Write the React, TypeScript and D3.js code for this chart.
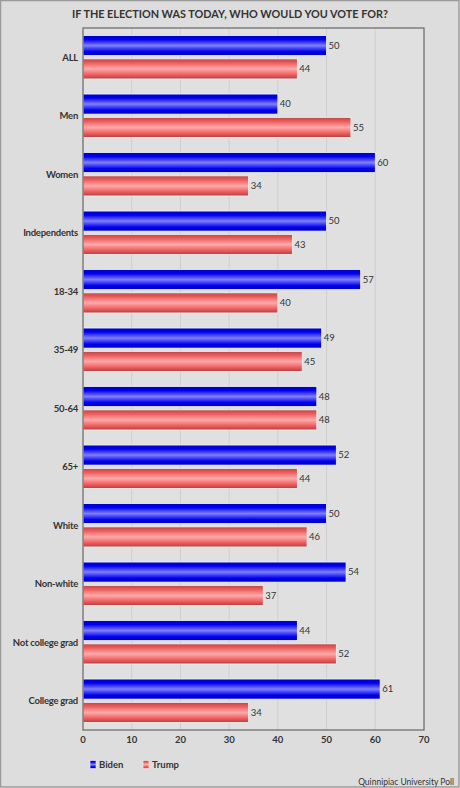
import React from "react";
import * as d3 from "d3";

const categories = ["ALL","Men","Women","Independents","18-34","35-49","50-64","65+","White","Non-white","Not college grad","College grad"];
const biden = [50,40,60,50,57,49,48,52,50,54,44,61];
const trump = [44,55,34,43,40,45,48,44,46,37,52,34];
const seriesNames = ["Biden","Trump"];
const xTicks = [0,10,20,30,40,50,60,70];
const title = "IF THE ELECTION WAS TODAY, WHO WOULD YOU VOTE FOR?";
const source = "Quinnipiac University Poll";

const W = 460, H = 788;
const M = { left: 83, right: 424, top: 28, bottom: 730 };
const FONT = "Lato, 'Noto Sans', sans-serif";

export default function App() {
  const x = d3.scaleLinear().domain([0, 70]).range([M.left, M.right]);
  const y0 = d3.scaleBand<string>().domain(categories).range([M.top, M.bottom]).paddingInner(0.258).paddingOuter(0.129);
  const y1 = d3.scaleBand<string>().domain(seriesNames).range([0, y0.bandwidth()]).paddingInner(0.14);
  const values = [biden, trump];
  const grads = ["gBlue", "gRed"];
  return (
    <div style={{ position: "absolute", left: 0, top: 0 }}>
      <svg width={W} height={H} style={{ display: "block", fontFamily: FONT }}>
        <defs>
          <linearGradient id="gBlue" x1="0" y1="0" x2="0" y2="1">
            <stop offset="0" stopColor="#0000c8" />
            <stop offset="0.2" stopColor="#0000ee" />
            <stop offset="0.5" stopColor="#8080ff" />
            <stop offset="0.8" stopColor="#0000ee" />
            <stop offset="1" stopColor="#0000b4" />
          </linearGradient>
          <linearGradient id="gRed" x1="0" y1="0" x2="0" y2="1">
            <stop offset="0" stopColor="#b84848" />
            <stop offset="0.2" stopColor="#ee5c5c" />
            <stop offset="0.5" stopColor="#ffaaaa" />
            <stop offset="0.8" stopColor="#ee5c5c" />
            <stop offset="1" stopColor="#b04040" />
          </linearGradient>
        </defs>
        <rect x={0.5} y={0.5} width={W - 1.5} height={H - 1.5} fill="#dddddd" stroke="#9a9a9a" strokeWidth={1.5} />
        <text x={W / 2} y={18} textAnchor="middle" fontSize={11} textLength={316} lengthAdjust="spacingAndGlyphs" fontWeight="bold" fill="#333">{title}</text>
        <rect x={M.left} y={M.top} width={M.right - M.left} height={M.bottom - M.top} fill="#e0e0e0" />
        {xTicks.slice(1, -1).map((t) => (
          <line key={t} x1={x(t)} x2={x(t)} y1={M.top} y2={M.bottom} stroke="#cfcfcf" strokeWidth={1} />
        ))}
        {categories.map((c, i) => (
          <g key={c}>
            {values.map((vals, s) => {
              const yy = (y0(c) as number) + (y1(seriesNames[s]) as number);
              const h = y1.bandwidth();
              return (
                <g key={s}>
                  <rect x={x(0)} y={yy} width={x(vals[i]) - x(0)} height={h} fill={`url(#${grads[s]})`} stroke="#f4f4f4" strokeWidth={0.8} />
                  <text x={x(vals[i]) + 2} y={yy + h / 2 + 3.3} fontSize={9.5} fill="#333">{vals[i]}</text>
                </g>
              );
            })}
            <text x={78} y={(y0(c) as number) + y0.bandwidth() / 2 + 3.4} textAnchor="end" fontSize={9.5} letterSpacing={-0.25} fontWeight="bold" fill="#333">{c}</text>
          </g>
        ))}
        <rect x={M.left} y={M.top} width={M.right - M.left} height={M.bottom - M.top} fill="none" stroke="#666" strokeWidth={1.2} />
        {xTicks.map((t) => (
          <text key={t} x={x(t)} y={743} textAnchor="middle" fontSize={9.5} fontWeight="bold" fill="#333">{t}</text>
        ))}
        {seriesNames.map((n, s) => {
          const lx = s === 0 ? 90 : 143;
          return (
            <g key={n}>
              <rect x={lx} y={760.5} width={6} height={8} fill={`url(#${grads[s]})`} stroke="#f4f4f4" strokeWidth={0.6} />
              <text x={lx + 9} y={768} fontSize={9.5} fontWeight="bold" fill="#333">{n}</text>
            </g>
          );
        })}
        <text x={454} y={785} textAnchor="end" fontSize={8.5} fill="#333">{source}</text>
      </svg>
    </div>
  );
}
